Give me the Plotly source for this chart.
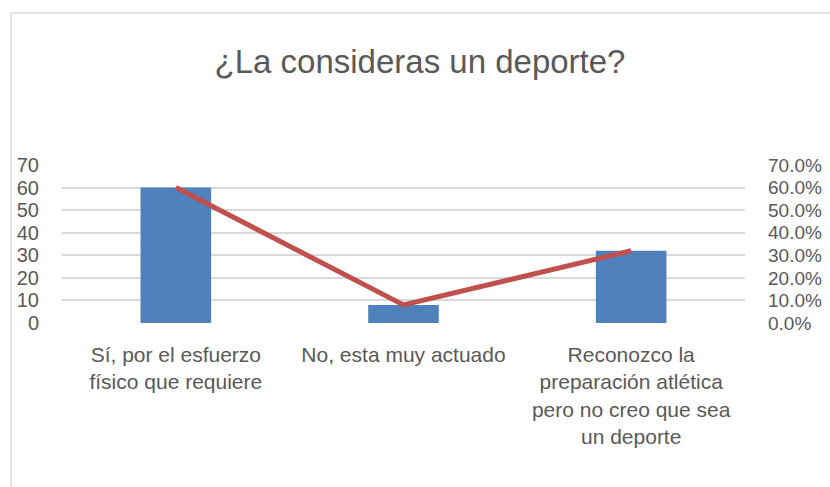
import plotly.graph_objects as go

categories = [
    "Sí, por el esfuerzo<br>físico que requiere",
    "No, esta muy actuado",
    "Reconozco la<br>preparación atlética<br>pero no creo que sea<br>un deporte",
]
counts = [60, 8, 32]
percents = [0.60, 0.08, 0.32]
left_ticks = [0, 10, 20, 30, 40, 50, 60, 70]
right_ticks = [0, 0.1, 0.2, 0.3, 0.4, 0.5, 0.6, 0.7]

FONT = "Liberation Sans"
TXT = "#595959"

fig = go.Figure()
fig.add_trace(go.Bar(x=categories, y=counts, marker=dict(color="#4F81BD", line=dict(width=0)),
                     width=0.31, yaxis="y", showlegend=False))
fig.add_trace(go.Scatter(x=categories, y=percents, mode="lines", line=dict(color="#C0504D", width=5),
                         yaxis="y2", showlegend=False))

W, H = 830, 487
l, r, t, b = 62, 85, 165, 164
pw, ph = W - l - r, H - t - b

def px(xp):
    return (xp - l) / pw

def py(yp):
    return (H - b - yp) / ph

fig.update_layout(
    width=W, height=H,
    margin=dict(l=l, r=r, t=t, b=b, autoexpand=False),
    paper_bgcolor="white", plot_bgcolor="white",
    font=dict(family=FONT, color=TXT, size=17),
    title=dict(text="¿La consideras un deporte?", x=420 / W, xref="container", xanchor="center",
               y=1 - 61 / H, yanchor="middle", yref="container",
               font=dict(family=FONT, size=33, color=TXT)),
    bargap=0.69,
    xaxis=dict(showgrid=False, showline=False, ticks="", tickfont=dict(size=21, color=TXT),
               ticklabelstandoff=17, automargin=False),
    yaxis=dict(range=[0, 70], tickvals=left_ticks, showgrid=True, gridcolor="#D9D9D9", gridwidth=1.5,
               zeroline=False, showline=False, ticks="", tickfont=dict(size=20, color=TXT),
               ticklabelstandoff=22, automargin=False),
    yaxis2=dict(range=[0, 0.7], tickvals=right_ticks, tickformat=".1%", overlaying="y", side="right",
                showgrid=False, zeroline=False, showline=False, ticks="",
                tickfont=dict(size=19, color=TXT), ticklabelstandoff=22, automargin=False),
    shapes=[dict(type="rect", xref="paper", yref="paper",
                 x0=px(11), x1=px(840), y0=py(500), y1=py(13),
                 line=dict(color="#D9D9D9", width=1.5), fillcolor="rgba(0,0,0,0)", layer="below")],
)

fig.write_html("out.html")
